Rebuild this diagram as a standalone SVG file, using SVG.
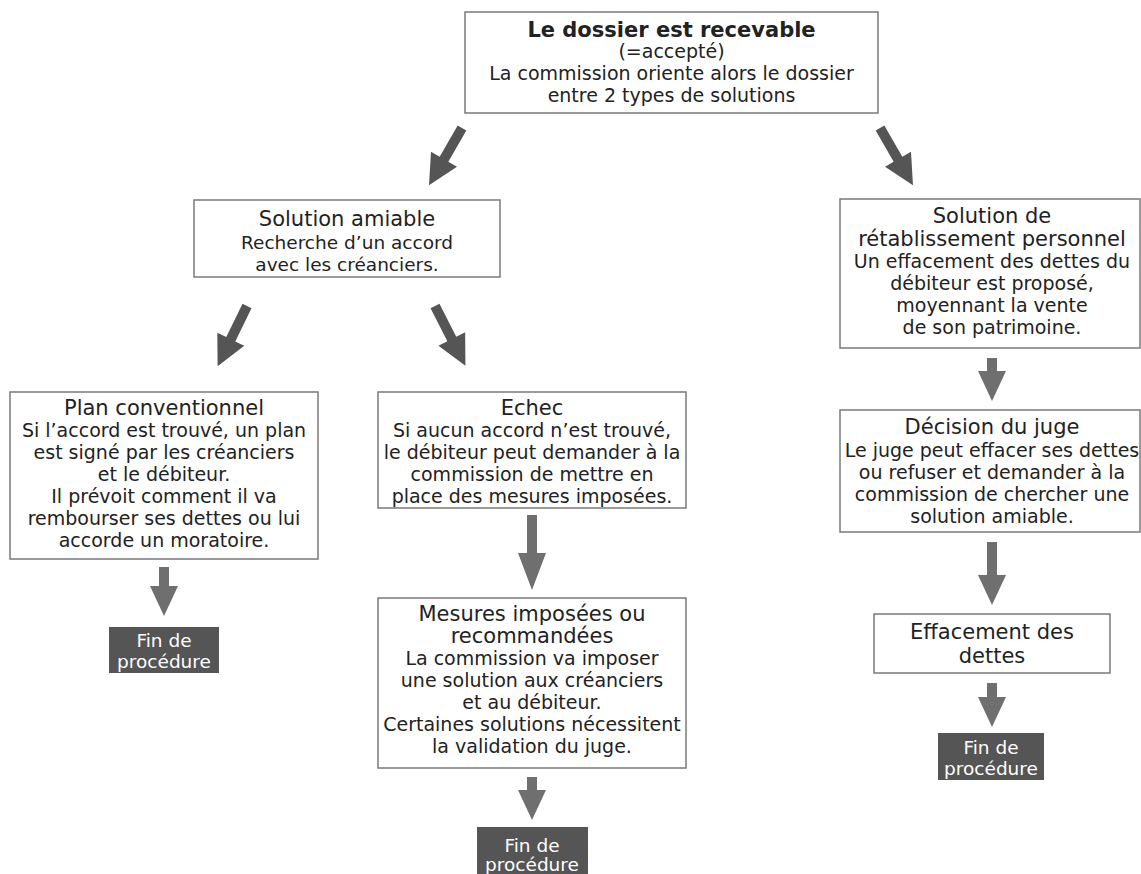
<svg xmlns="http://www.w3.org/2000/svg" width="1141" height="874" viewBox="0 0 1141 874">
<style>
  .box { fill: #ffffff; stroke: #7a7a7a; stroke-width: 1.5; }
  .fin { fill: #555555; }
  .t { font-family: "DejaVu Sans", Verdana, sans-serif; font-size: 19px; fill: #222222; text-anchor: middle; }
  .h { font-size: 21px; }
  .s { font-size: 18.5px; }
  .b { font-weight: bold; font-size: 21px; }
  .ft { font-family: "DejaVu Sans", Verdana, sans-serif; font-size: 18.5px; fill: #ffffff; text-anchor: middle; }
  .ad { fill: #555555; }
  .av { fill: #6f6f6f; }
</style>
<rect width="1141" height="874" fill="#ffffff"/>

<g id="connectors">
  <path class="ad" transform="translate(462,128) rotate(30)" d="M-5,0 H5 V36 H15 L0,66 L-15,36 H-5 Z"/>
  <path class="ad" transform="translate(880,128) rotate(-30)" d="M-5,0 H5 V36 H15 L0,66 L-15,36 H-5 Z"/>
  <path class="ad" transform="translate(247,306) rotate(26)" d="M-5,0 H5 V37 H15 L0,67 L-15,37 H-5 Z"/>
  <path class="ad" transform="translate(435,306) rotate(-27)" d="M-5,0 H5 V37 H15 L0,67 L-15,37 H-5 Z"/>
  <path class="av" transform="translate(164,567)" d="M-5,0 H5 V19 H14 L0,49 L-14,19 H-5 Z"/>
  <path class="av" transform="translate(532,515)" d="M-5,0 H5 V38 H14 L0,75 L-14,38 H-5 Z"/>
  <path class="av" transform="translate(532,777)" d="M-5,0 H5 V13 H14 L0,43 L-14,13 H-5 Z"/>
  <path class="av" transform="translate(992,358)" d="M-5,0 H5 V13 H14 L0,43 L-14,13 H-5 Z"/>
  <path class="av" transform="translate(992,542)" d="M-5,0 H5 V33 H14 L0,63 L-14,33 H-5 Z"/>
  <path class="av" transform="translate(992,683)" d="M-5,0 H5 V14 H14 L0,44 L-14,14 H-5 Z"/>
</g>

<g id="recevable">
  <rect class="box" x="465" y="12" width="413" height="101"/>
  <text class="t b" x="671.5" y="37">Le dossier est recevable</text>
  <text class="t" x="671.5" y="58">(=accepté)</text>
  <text class="t" x="671.5" y="80">La commission oriente alors le dossier</text>
  <text class="t" x="671.5" y="102">entre 2 types de solutions</text>
</g>

<g id="amiable">
  <rect class="box" x="194" y="200" width="306" height="77"/>
  <text class="t h" x="347" y="226">Solution amiable</text>
  <text class="t s" x="347" y="249">Recherche d’un accord</text>
  <text class="t s" x="347" y="271">avec les créanciers.</text>
</g>

<g id="retablissement">
  <rect class="box" x="840" y="199" width="300" height="149"/>
  <text class="t h" x="992" y="223">Solution de</text>
  <text class="t h" x="992" y="246">rétablissement personnel</text>
  <text class="t" x="992" y="268">Un effacement des dettes du</text>
  <text class="t" x="992" y="290">débiteur est proposé,</text>
  <text class="t" x="992" y="312">moyennant la vente</text>
  <text class="t" x="992" y="334">de son patrimoine.</text>
</g>

<g id="plan">
  <rect class="box" x="10" y="392" width="308" height="167"/>
  <text class="t h" x="164" y="415">Plan conventionnel</text>
  <text class="t" x="164" y="437">Si l’accord est trouvé, un plan</text>
  <text class="t" x="164" y="459">est signé par les créanciers</text>
  <text class="t" x="164" y="481">et le débiteur.</text>
  <text class="t" x="164" y="503">Il prévoit comment il va</text>
  <text class="t" x="164" y="525">rembourser ses dettes ou lui</text>
  <text class="t" x="164" y="547">accorde un moratoire.</text>
</g>

<g id="echec">
  <rect class="box" x="378" y="392" width="308" height="116"/>
  <text class="t h" x="532" y="415">Echec</text>
  <text class="t" x="532" y="437">Si aucun accord n’est trouvé,</text>
  <text class="t" x="532" y="459">le débiteur peut demander à la</text>
  <text class="t" x="532" y="481">commission de mettre en</text>
  <text class="t" x="532" y="503">place des mesures imposées.</text>
</g>

<g id="mesures">
  <rect class="box" x="378" y="598" width="308" height="170"/>
  <text class="t h" x="532" y="621">Mesures imposées ou</text>
  <text class="t h" x="532" y="643">recommandées</text>
  <text class="t" x="532" y="665">La commission va imposer</text>
  <text class="t" x="532" y="687">une solution aux créanciers</text>
  <text class="t" x="532" y="709">et au débiteur.</text>
  <text class="t" x="532" y="731">Certaines solutions nécessitent</text>
  <text class="t" x="532" y="753">la validation du juge.</text>
</g>

<g id="decision">
  <rect class="box" x="840" y="410" width="300" height="122"/>
  <text class="t h" x="992" y="434">Décision du juge</text>
  <text class="t" x="992" y="457">Le juge peut effacer ses dettes</text>
  <text class="t" x="992" y="479">ou refuser et demander à la</text>
  <text class="t" x="992" y="501">commission de chercher une</text>
  <text class="t" x="992" y="523">solution amiable.</text>
</g>

<g id="effacement">
  <rect class="box" x="874" y="614" width="236" height="59"/>
  <text class="t h" x="992" y="639">Effacement des</text>
  <text class="t h" x="992" y="663">dettes</text>
</g>

<g id="fin1">
  <rect class="fin" x="109" y="627" width="110" height="46"/>
  <text class="ft" x="164" y="647">Fin de</text>
  <text class="ft" x="164" y="668">procédure</text>
</g>

<g id="fin2">
  <rect class="fin" x="477" y="827" width="111" height="47"/>
  <text class="ft" x="532" y="852">Fin de</text>
  <text class="ft" x="532" y="871">procédure</text>
</g>

<g id="fin3">
  <rect class="fin" x="938" y="733" width="106" height="47"/>
  <text class="ft" x="991" y="754">Fin de</text>
  <text class="ft" x="991" y="775">procédure</text>
</g>
</svg>
